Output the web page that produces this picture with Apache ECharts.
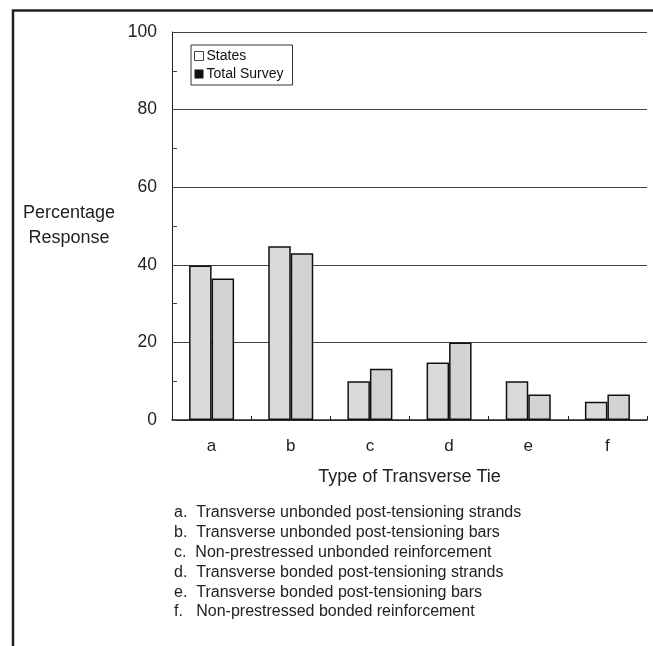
<!DOCTYPE html>
<html>
<head>
<meta charset="utf-8">
<script src="https://cdn.jsdelivr.net/npm/echarts@6/dist/echarts.min.js"></script>
<style>
html,body{margin:0;padding:0;background:#fff;}
#c{width:653px;height:646px;}
</style>
</head>
<body>
<div id="c"></div>
<script>
const categories = ['a', 'b', 'c', 'd', 'e', 'f'];
const statesValues = [39.8, 44.8, 10, 14.8, 10, 4.7];
const totalSurveyValues = [36.5, 43, 13.2, 20, 6.6, 6.6];
const yTicks = [0, 20, 40, 60, 80, 100];
const footnotes = [
  'a.  Transverse unbonded post-tensioning strands',
  'b.  Transverse unbonded post-tensioning bars',
  'c.  Non-prestressed unbonded reinforcement',
  'd.  Transverse bonded post-tensioning strands',
  'e.  Transverse bonded post-tensioning bars',
  'f.   Non-prestressed bonded reinforcement'
];

const FONT = 'Liberation Sans, Arial, sans-serif';
const chart = echarts.init(document.getElementById('c'), null, {renderer: 'canvas'});
const option = {
  animation: false,
  backgroundColor: '#fff',
  grid: {left: 172, top: 32, right: 6, bottom: 226, containLabel: false},
  legend: {
    orient: 'vertical',
    left: 191,
    top: 45,
    padding: [4, 9, 4, 3],
    itemGap: 4,
    itemWidth: 9,
    itemHeight: 9,
    borderColor: '#333',
    borderWidth: 1,
    textStyle: {fontFamily: FONT, fontSize: 14, color: '#111', padding: [0,0,0,-2]},
    data: [
      {name: 'States', icon: 'rect', itemStyle: {color: '#fff', borderColor: '#444', borderWidth: 1}},
      {name: 'Total Survey', icon: 'rect', itemStyle: {color: '#111', borderColor: '#111', borderWidth: 0}}
    ]
  },
  xAxis: {
    type: 'category',
    data: categories,
    name: 'Type of Transverse Tie',
    nameLocation: 'middle',
    nameGap: 48,
    nameTextStyle: {fontFamily: FONT, fontSize: 18, color: '#222'},
    axisLine: {lineStyle: {color: '#222', width: 1.5}},
    axisTick: {show: true, inside: true, length: 4, lineStyle: {color: '#222'}},
    axisLabel: {fontFamily: FONT, fontSize: 17, color: '#222', margin: 18}
  },
  yAxis: [
    {
      type: 'value',
      min: 0, max: 100, interval: 20,
      name: 'Percentage\nResponse',
      nameLocation: 'middle',
      nameRotate: 0,
      nameGap: 103,
      nameTextStyle: {fontFamily: FONT, fontSize: 18, color: '#222', align: 'center', lineHeight: 25},
      axisLine: {show: true, lineStyle: {color: '#222', width: 1}},
      axisTick: {show: false},
      axisLabel: {fontFamily: FONT, fontSize: 17.5, color: '#222', margin: 15,
        formatter: v => yTicks.includes(v) ? String(v) : ''},
      splitLine: {show: true, lineStyle: {color: '#444', width: 1}}
    },
    {
      type: 'value',
      min: 0, max: 100, interval: 10,
      position: 'left',
      axisLine: {show: false},
      axisTick: {show: true, inside: true, length: 5, lineStyle: {color: '#444'}},
      axisLabel: {show: false},
      splitLine: {show: false}
    }
  ],
  series: [
    {
      name: 'States', type: 'bar', data: statesValues,
      barWidth: 22.5, barGap: '0%',
      itemStyle: {color: '#dadada', borderColor: '#111', borderWidth: 1.5}
    },
    {
      name: 'Total Survey', type: 'bar', data: totalSurveyValues,
      barWidth: 22.5, barGap: '0%',
      itemStyle: {color: '#d3d3d3', borderColor: '#111', borderWidth: 1.5}
    }
  ],
  graphic: [
    {type: 'polyline', silent: true, shape: {points: [[13, 646], [13, 10.5], [653, 10.5]]},
      style: {stroke: '#222', lineWidth: 2.5, fill: null}},
    {type: 'text', left: 174, top: 503, silent: true,
      style: {text: footnotes.join('\n'), font: '16px ' + FONT, fill: '#222', lineHeight: 19.8}}
  ]
};
chart.setOption(option);
</script>
</body>
</html>
